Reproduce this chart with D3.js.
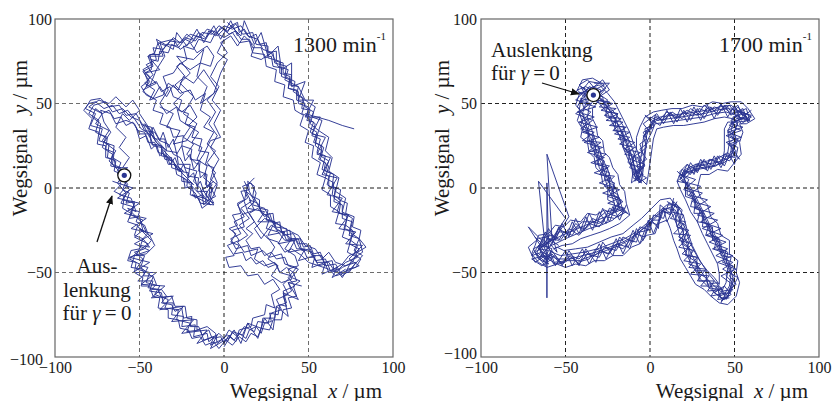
<!DOCTYPE html>
<html>
<head>
<meta charset="utf-8">
<script src="https://cdn.jsdelivr.net/npm/d3@7"></script>
<style>
body { margin: 0; background: #fff; }
svg text { font-family: "Liberation Serif", "DejaVu Serif", serif; fill: #1a1a1a; }
</style>
</head>
<body>
<svg id="chart" width="834" height="401" font-family="Liberation Serif"></svg>
<script>
// axis ticks and grid
var tickValues = [-100, -50, 0, 50, 100];
var gridValues = [-50, 0, 50];

// ---- 1300 min-1 : tool tip trace (x, y in µm) ----
var loopA1300 = [[-60,8],[-57,2],[-62,-4],[-55,-6],[-52,-14],[-57,-12],[-49,-20],[-46,-26],[-50,-24],[-43,-31],[-47,-36],[-53,-38],[-48,-42],[-52,-48],[-44,-50],[-46,-56],[-38,-58],[-41,-63],[-33,-66],[-35,-71],[-27,-72],[-28,-78],[-20,-80],[-22,-85],[-14,-84],[-12,-90],[-6,-88],[-8,-93],[0,-89],[3,-84],[8,-88],[12,-82],[18,-85],[20,-79],[26,-80],[28,-74],[34,-72],[31,-66],[38,-63],[35,-57],[40,-52],[33,-50],[30,-44],[24,-46],[18,-42],[20,-36],[12,-38],[8,-32],[14,-28],[9,-22],[15,-18],[10,-12],[16,-8],[13,-2],[18,-6],[22,-14],[27,-18],[25,-24],[32,-26],[36,-31],[42,-30],[45,-36],[52,-38],[55,-44],[62,-44],[66,-50],[70,-47],[76,-44],[80,-36],[74,-33],[77,-26],[71,-24],[73,-17],[67,-14],[69,-7],[64,-4],[65,3],[60,6],[62,13],[57,17],[59,24],[54,27],[56,34],[51,38],[53,45],[48,48],[46,54],[41,57],[42,63],[36,66],[37,72],[30,74],[29,80],[23,82],[20,88],[14,90],[10,96],[5,94],[0,96],[-4,92],[-10,94],[-14,89],[-20,91],[-25,86],[-32,87],[-36,82],[-42,83],[-40,76],[-46,73],[-42,67],[-47,62],[-41,58],[-44,52],[-36,55],[-33,62],[-27,58],[-24,66],[-18,62],[-12,70],[-8,64],[-4,58],[-10,52],[-5,45],[-9,38],[-4,31],[-8,24],[-3,17],[-7,10],[-4,3],[-9,-4],[-6,-9],[-12,-6],[-14,0],[-18,4],[-16,10],[-23,12],[-26,18],[-30,20],[-33,26],[-38,28],[-41,33],[-47,34],[-50,40],[-55,42],[-60,47],[-66,45],[-70,51],[-77,49],[-80,44],[-74,40],[-76,33],[-70,30],[-72,24],[-66,20],[-67,13],[-62,12],[-60,8]];
var loopB1300 = [[-58,10],[-63,3],[-58,-3],[-61,-9],[-54,-11],[-56,-18],[-50,-17],[-48,-25],[-53,-29],[-45,-33],[-50,-37],[-56,-42],[-50,-45],[-47,-51],[-51,-55],[-42,-55],[-44,-61],[-37,-62],[-36,-68],[-30,-68],[-31,-75],[-24,-76],[-25,-82],[-17,-81],[-18,-88],[-10,-86],[-9,-91],[-3,-86],[2,-91],[5,-85],[11,-87],[14,-80],[22,-83],[23,-77],[30,-77],[31,-70],[37,-68],[35,-61],[42,-58],[38,-53],[43,-47],[36,-45],[34,-39],[27,-41],[23,-37],[16,-40],[14,-34],[7,-36],[4,-30],[10,-27],[6,-20],[12,-17],[8,-10],[14,-6],[11,1],[16,3],[19,-3],[17,-10],[24,-12],[28,-20],[33,-22],[35,-28],[41,-27],[44,-33],[49,-33],[52,-40],[58,-40],[60,-46],[66,-45],[70,-52],[74,-49],[82,-40],[77,-37],[80,-30],[74,-28],[76,-20],[70,-18],[70,-10],[65,-8],[66,-1],[61,2],[63,9],[58,11],[60,19],[55,21],[57,29],[52,31],[54,38],[49,42],[50,48],[44,50],[44,57],[38,59],[39,66],[33,68],[33,75],[26,77],[26,84],[19,85],[17,92],[11,91],[7,97],[2,93],[-3,96],[-7,91],[-13,92],[-17,87],[-23,89],[-28,84],[-34,85],[-38,79],[-44,79],[-42,72],[-48,69],[-44,63],[-48,57],[-42,53],[-38,60],[-34,54],[-30,61],[-26,56],[-20,58],[-17,52],[-11,56],[-14,46],[-8,42],[-12,36],[-6,33],[-10,26],[-5,22],[-10,15],[-5,9],[-9,2],[-5,-5],[-11,-8],[-10,-2],[-16,-2],[-15,6],[-21,7],[-20,14],[-27,14],[-28,21],[-34,22],[-35,29],[-41,29],[-43,36],[-48,37],[-52,44],[-58,43],[-62,49],[-68,48],[-73,53],[-79,52],[-82,47],[-76,44],[-79,37],[-72,35],[-74,28],[-68,26],[-69,18],[-64,16],[-65,10],[-60,8]];
var loopC1300 = [[-61,7],[-56,-1],[-60,-7],[-53,-9],[-55,-16],[-48,-19],[-51,-23],[-44,-28],[-41,-34],[-46,-39],[-53,-40],[-55,-47],[-48,-48],[-42,-53],[-45,-59],[-39,-60],[-37,-65],[-31,-64],[-29,-70],[-23,-70],[-22,-77],[-16,-78],[-16,-84],[-10,-82],[-5,-86],[-4,-92],[2,-87],[7,-91],[9,-84],[16,-82],[17,-77],[24,-75],[25,-69],[30,-71],[28,-63],[33,-60],[29,-54],[24,-57],[20,-51],[14,-52],[10,-46],[3,-47],[1,-41],[6,-40],[2,-34],[9,-31],[5,-25],[12,-23],[10,-16],[18,-13],[15,-7],[20,-9],[23,-16],[29,-15],[30,-23],[37,-24],[38,-30],[44,-30],[46,-37],[51,-36],[54,-43],[60,-42],[63,-49],[68,-48],[72,-44],[79,-41],[73,-38],[75,-31],[70,-29],[72,-22],[66,-21],[68,-14],[63,-11],[63,-4],[58,-1],[60,6],[55,8],[57,15],[52,18],[53,25],[48,27],[50,34],[45,37],[47,43],[42,46],[41,52],[35,54],[36,61],[30,63],[31,70],[25,72],[24,79],[17,80],[15,87],[9,86],[5,92],[0,89],[-5,92],[-8,86],[-15,88],[-18,82],[-24,84],[-22,76],[-28,72],[-23,66],[-29,61],[-24,56],[-30,50],[-25,45],[-20,49],[-16,42],[-21,37],[-15,33],[-19,27],[-13,24],[-16,17],[-10,13],[-12,6],[-7,2],[-11,-4],[-6,-10],[-14,-9],[-17,-3],[-22,1],[-21,9],[-27,10],[-30,16],[-35,17],[-37,24],[-42,25],[-44,32],[-50,32],[-53,38],[-58,40],[-64,38],[-67,44],[-73,46],[-71,39],[-67,33],[-71,27],[-65,25],[-66,18],[-61,15],[-63,10],[-59,8]];
var loopD1300 = [[-44,60],[-40,70],[-35,78],[-38,86],[-30,88],[-26,82],[-20,86],[-16,80],[-10,84],[-6,78],[-8,72],[-14,74],[-20,70],[-26,74],[-30,68],[-36,66],[-33,58],[-38,50],[-34,44],[-28,48],[-26,40],[-20,36],[-24,30],[-18,26],[-22,20],[-16,14],[-12,20],[-8,28],[-2,30],[-6,38],[-2,46],[-7,52],[-3,60],[-8,66],[-4,74],[2,80],[-2,86],[4,90],[8,84],[12,90],[18,84],[16,78],[22,76],[28,80],[32,72],[38,70],[36,64],[44,60],[48,52],[54,48],[52,42],[58,40],[56,34],[62,30],[60,22],[64,18],[62,10],[68,6],[66,-2],[72,-6],[70,-14],[76,-18],[74,-26],[80,-30],[82,-38],[76,-42],[72,-50],[66,-52],[62,-48],[56,-46],[50,-44],[46,-40],[40,-36],[36,-38],[32,-32],[26,-30],[22,-26],[18,-20],[14,-14],[12,-8],[14,2],[18,6]];
var loopE1300 = [[25,-28],[30,-35],[26,-42],[32,-46],[28,-52],[34,-56],[40,-54],[38,-48],[44,-46],[42,-40],[36,-36],[40,-30],[34,-26],[28,-22],[22,-30],[18,-24],[24,-18],[30,-20],[36,-24],[44,-28],[48,-34],[54,-36],[58,-42],[62,-38],[66,-44],[72,-46],[78,-44],[74,-50],[68,-50]];
var loopF1300 = [[-62,6],[-58,4],[-60,-1],[-56,-3],[-58,-9],[-53,-8],[-54,-13],[-50,-14],[-52,-20],[-47,-22],[-45,-27],[-48,-30],[-44,-35],[-49,-34],[-52,-40],[-47,-40],[-49,-46],[-45,-47],[-48,-52],[-42,-52],[-40,-57],[-43,-60],[-37,-60],[-34,-64],[-37,-68],[-31,-69],[-29,-73],[-25,-71],[-24,-77],[-19,-76],[-20,-82],[-15,-82],[-13,-87],[-9,-84],[-7,-89],[-2,-88],[0,-92],[3,-87],[6,-90],[9,-86],[13,-89],[15,-84],[19,-82],[22,-86],[24,-80],[28,-79],[27,-74],[32,-75],[33,-69],[37,-70],[35,-64],[40,-61],[38,-56],[43,-55],[41,-50],[37,-47],[33,-50],[31,-45],[26,-47],[23,-43],[19,-45],[16,-41],[13,-43],[11,-38],[6,-39],[9,-34],[4,-32],[7,-27],[3,-24],[8,-22],[5,-16],[10,-15],[8,-9],[12,-7],[10,-2],[15,-1],[14,4],[18,1],[17,-5],[21,-7],[21,-12],[26,-13],[25,-19],[30,-20],[31,-25],[35,-26],[37,-31],[41,-31],[43,-36],[47,-36],[49,-41],[53,-41],[56,-46],[60,-45],[62,-50],[67,-49],[70,-53],[73,-48],[78,-47],[81,-42],[77,-39],[79,-34],[75,-31],[76,-25],[72,-22],[73,-16],[68,-15],[69,-9],[65,-6],[66,0],[62,1],[62,7],[59,9],[60,15],[56,17],[58,22],[54,25],[55,31],[51,33],[53,39],[49,40],[51,46],[46,47],[47,53],[43,55],[44,60],[39,61],[40,67],[35,68],[35,74],[31,75],[31,81],[26,80],[25,86],[21,85],[19,91],[15,89],[12,94],[9,92],[8,98],[4,96],[2,92],[-2,95],[-5,90],[-9,93],[-11,88],[-16,90],[-19,86],[-23,88],[-27,83],[-31,85],[-33,80],[-38,81],[-39,75],[-43,76],[-43,70],[-47,68],[-45,63],[-49,60],[-46,55],[-40,52],[-42,46],[-36,44],[-38,38],[-32,36],[-30,30],[-24,31],[-25,25],[-19,23],[-20,17],[-14,16],[-15,10],[-10,8],[-11,2],[-7,0],[-8,-6],[-12,-10],[-13,-4],[-17,-6],[-19,1],[-23,0],[-24,6],[-28,8],[-29,14],[-33,14],[-35,20],[-39,21],[-41,27],[-45,27],[-47,33],[-51,34],[-54,39],[-58,37],[-61,42],[-65,41],[-68,46],[-72,44],[-76,47],[-78,42],[-73,38],[-74,32],[-69,30],[-70,23],[-65,21],[-66,14],[-61,12],[-62,6]];
var loopG1300 = [[-57,12],[-63,9],[-61,2],[-65,-2],[-59,-5],[-60,-12],[-55,-15],[-57,-20],[-51,-22],[-53,-28],[-48,-30],[-50,-36],[-55,-37],[-57,-43],[-52,-44],[-53,-50],[-48,-53],[-49,-58],[-44,-58],[-42,-64],[-38,-65],[-39,-71],[-33,-72],[-33,-77],[-27,-78],[-26,-83],[-21,-84],[-19,-89],[-14,-88],[-11,-93],[-6,-91],[-3,-95],[1,-90],[5,-93],[9,-88],[13,-91],[16,-86],[20,-88],[22,-83],[27,-84],[29,-78],[34,-78],[35,-72],[40,-71],[38,-65],[43,-64],[41,-58],[45,-55],[40,-53],[44,-48],[38,-46],[36,-41],[31,-42],[28,-38],[24,-40],[21,-35],[16,-36],[13,-31],[17,-27],[13,-24],[18,-20],[15,-15],[20,-12],[24,-17],[27,-15],[29,-21],[33,-20],[34,-26],[39,-25],[40,-31],[45,-30],[47,-35],[51,-34],[53,-39],[57,-38],[59,-44],[64,-43],[65,-48],[70,-45],[74,-40],[79,-38],[84,-35],[80,-30],[81,-25],[76,-23],[77,-17],[72,-15],[73,-9],[68,-7],[69,-1],[64,1],[65,8],[60,10],[62,16],[57,19],[58,25],[53,27],[55,33],[50,36],[51,42],[46,44],[48,50],[43,52],[43,58],[38,59],[39,64],[34,66],[34,71],[29,72],[28,78],[24,77],[22,83],[17,83],[15,88],[10,88],[7,93],[3,91],[0,94],[-4,90],[-7,93],[-11,89],[-15,92],[-18,88],[-22,91],[-26,86],[-30,89],[-34,84],[-39,86],[-41,80],[-45,78],[-43,73],[-48,70],[-44,66],[-46,60],[-40,63],[-37,57],[-32,60],[-30,54],[-25,52],[-27,46],[-21,44],[-23,38],[-17,36],[-19,30],[-13,29],[-15,22],[-9,21],[-11,14],[-6,12],[-8,5],[-4,2],[-6,-4],[-9,-9],[-13,-12],[-15,-6],[-20,-4],[-19,3],[-25,4],[-25,10],[-31,12],[-31,18],[-37,19],[-37,25],[-43,26],[-44,32],[-49,35],[-53,41],[-57,46],[-62,44],[-66,49],[-71,47],[-76,51],[-80,50],[-83,46],[-78,41],[-80,35],[-74,33],[-75,26],[-70,25],[-70,18],[-65,17],[-64,12],[-57,12]];
var diag1300 = [[-48,38],[-44,30],[-42,36],[-38,28],[-36,33],[-33,24],[-30,29],[-28,20],[-25,25],[-23,16],[-20,20],[-18,11],[-15,15],[-14,6],[-11,9],[-10,0],[-8,3],[-9,-6],[-12,-2],[-14,4],[-16,1],[-18,9],[-21,6],[-24,14],[-26,10],[-29,18],[-32,14],[-35,22],[-38,19],[-40,26],[-43,23],[-46,31],[-50,29],[-52,36]];
var blob1300 = [[-62,10],[-68,16],[-64,22],[-72,28],[-68,34],[-76,38],[-72,44],[-80,48],[-74,52],[-68,50],[-64,54],[-58,48],[-54,52],[-50,46],[-56,40],[-60,44],[-64,36],[-58,30],[-62,24],[-56,18],[-60,12]];
var scrawlLeft1300 = [[-66,4],[-54,0],[-63,-6],[-50,-9],[-59,-15],[-46,-18],[-55,-24],[-42,-27],[-53,-33],[-44,-37],[-56,-41],[-44,-44],[-54,-50],[-40,-50],[-49,-57],[-35,-58],[-43,-65],[-30,-64],[-38,-72],[-24,-70],[-31,-79],[-18,-78],[-25,-86],[-10,-84],[-16,-92],[-4,-87],[-8,-95],[4,-88]];
var scrawlBottom1300 = [[0,-94],[6,-84],[10,-92],[14,-80],[20,-89],[24,-77],[29,-84],[31,-70],[38,-76],[35,-62],[44,-66],[38,-56],[46,-58]];
var scrawlDiag1300 = [[12,4],[18,-8],[14,-12],[24,-14],[20,-20],[30,-20],[26,-28],[36,-26],[32,-33],[42,-31],[38,-38],[48,-36],[44,-43],[54,-40],[52,-47],[60,-44],[58,-51],[67,-47],[64,-53],[72,-48]];
var scrawlRight1300 = [[2,98],[10,90],[12,99],[18,85],[22,92],[26,78],[32,84],[34,70],[40,74],[40,60],[48,63],[44,52],[53,52],[48,42],[57,42],[52,32],[60,30],[55,20],[63,18],[58,8],[67,6],[61,-4],[70,-6],[64,-14],[74,-16],[68,-24],[78,-26],[72,-33],[82,-34],[74,-42],[80,-46],[70,-50]];
var scrawlInner1300 = [[-50,44],[-42,32],[-47,38],[-40,27],[-44,33],[-34,22],[-40,27],[-30,16],[-36,20],[-24,10],[-30,14],[-18,2],[-24,6],[-12,-6],[-19,-4],[-8,-10],[-14,-2],[-6,4]];
var scrawlTop1300 = [[-48,58],[-40,62],[-47,68],[-38,70],[-45,78],[-36,78],[-40,88],[-30,82],[-28,92],[-22,84],[-16,94],[-12,86],[-6,96],[-2,88],[4,99],[8,90]];
var wander1300 = [[-38,48],[-30,44],[-34,36],[-26,34],[-30,26],[-22,28],[-16,38],[-24,44],[-18,54],[-26,62],[-20,68],[-28,78],[-18,76],[-12,82],[-16,66],[-10,60],[-14,50],[-6,56],[-2,68],[2,76],[-4,80],[0,88]];
var tail1300 = [[48,44],[55,42],[62,40],[70,37],[77,35]];
var start1300 = [-59, 7.5];

// ---- 1700 min-1 ----
var loopA1700 = [[-33,55],[-38,50],[-40,44],[-38,38],[-36,31],[-33,26],[-31,19],[-28,13],[-26,7],[-23,1],[-21,-5],[-18,-12],[-24,-16],[-31,-19],[-38,-22],[-45,-25],[-52,-28],[-58,-31],[-63,-34],[-61,-39],[-55,-42],[-47,-42],[-40,-40],[-32,-38],[-24,-35],[-16,-32],[-9,-28],[-3,-23],[3,-17],[9,-12],[15,-13],[18,-20],[20,-28],[23,-36],[27,-44],[32,-52],[38,-58],[44,-63],[47,-58],[48,-50],[45,-43],[41,-35],[37,-27],[33,-19],[29,-11],[25,-3],[21,4],[19,9],[25,12],[32,14],[39,15],[45,17],[49,21],[50,28],[48,35],[51,41],[57,42],[52,46],[46,47],[39,46],[32,44],[25,43],[18,42],[11,41],[4,40],[-1,36],[-4,29],[-5,21],[-6,13],[-7,6],[-9,12],[-11,19],[-14,26],[-17,33],[-20,40],[-24,46],[-28,52],[-33,55]];
var loopB1700 = [[-35,57],[-41,52],[-42,45],[-40,39],[-37,33],[-35,25],[-32,20],[-30,12],[-27,7],[-25,0],[-22,-6],[-20,-13],[-26,-14],[-33,-20],[-40,-20],[-47,-26],[-54,-26],[-60,-32],[-65,-36],[-62,-41],[-57,-44],[-49,-43],[-42,-43],[-34,-40],[-26,-37],[-18,-34],[-11,-30],[-5,-25],[1,-20],[7,-14],[13,-15],[16,-22],[18,-30],[21,-38],[25,-46],[30,-54],[36,-60],[43,-66],[47,-61],[49,-53],[47,-45],[43,-37],[39,-29],[35,-21],[31,-13],[27,-5],[23,2],[17,7],[23,10],[30,12],[37,13],[44,15],[48,19],[51,26],[50,33],[52,39],[59,40],[54,44],[48,49],[41,48],[34,46],[27,45],[20,44],[13,43],[6,42],[1,39],[-2,31],[-3,23],[-4,15],[-5,8],[-8,5],[-10,10],[-13,17],[-16,24],[-18,31],[-22,38],[-25,44],[-30,50],[-34,55]];
var loopC1700 = [[-32,54],[-36,48],[-37,42],[-35,36],[-33,30],[-30,23],[-28,17],[-25,11],[-23,5],[-20,-1],[-18,-7],[-16,-13],[-22,-19],[-29,-22],[-36,-24],[-43,-27],[-50,-30],[-56,-33],[-61,-35],[-58,-38],[-53,-40],[-46,-39],[-39,-38],[-31,-36],[-23,-33],[-15,-30],[-8,-26],[-2,-21],[4,-15],[10,-10],[16,-10],[20,-17],[22,-25],[25,-34],[29,-42],[34,-50],[39,-56],[43,-60],[45,-56],[46,-48],[43,-41],[39,-33],[35,-25],[31,-17],[27,-9],[23,-1],[20,6],[21,11],[27,14],[34,16],[41,18],[46,21],[47,27],[46,34],[49,39],[55,41],[51,43],[45,45],[38,44],[31,42],[24,41],[17,40],[10,39],[3,38],[1,33],[-2,27],[-3,19],[-4,11],[-5,4],[-8,8],[-10,16],[-12,23],[-15,30],[-18,36],[-22,43],[-26,49],[-30,53],[-32,56]];
var loopD1700 = [[-34,60],[-39,55],[-37,49],[-42,44],[-37,40],[-40,34],[-34,31],[-35,24],[-29,21],[-31,14],[-25,12],[-27,5],[-21,3],[-23,-4],[-17,-7],[-20,-14],[-24,-12],[-28,-21],[-34,-18],[-39,-25],[-44,-21],[-48,-28],[-54,-24],[-57,-31],[-63,-29],[-66,-36],[-60,-37],[-63,-43],[-56,-40],[-52,-45],[-46,-41],[-42,-45],[-37,-39],[-30,-41],[-27,-35],[-20,-37],[-16,-29],[-10,-32],[-6,-23],[0,-25],[2,-16],[8,-18],[11,-9],[17,-12],[15,-19],[21,-22],[17,-29],[23,-32],[21,-40],[28,-41],[27,-49],[33,-49],[34,-57],[40,-56],[41,-64],[46,-62],[49,-56],[45,-52],[49,-46],[43,-44],[45,-37],[38,-36],[40,-29],[33,-28],[35,-21],[28,-20],[30,-12],[24,-11],[26,-3],[20,-1],[23,5],[17,9],[22,14],[28,10],[31,16],[38,13],[41,19],[47,16],[51,22],[46,26],[51,30],[46,34],[52,37],[49,42],[56,44],[58,39],[55,47],[49,44],[45,49],[40,44],[35,48],[30,43],[24,47],[19,41],[13,45],[8,40],[3,43],[2,36],[-4,33],[-1,27],[-6,23],[-2,17],[-8,13],[-4,8],[-9,4],[-7,10],[-12,12],[-9,19],[-15,22],[-12,28],[-18,30],[-15,36],[-22,37],[-19,44],[-26,45],[-24,51],[-31,52],[-29,58],[-34,60]];
var loopE1700 = [[-31,58],[-36,60],[-40,54],[-43,48],[-39,43],[-41,37],[-36,35],[-37,28],[-32,26],[-33,19],[-28,16],[-28,9],[-24,6],[-24,-1],[-19,-4],[-19,-10],[-14,-14],[-19,-17],[-25,-15],[-30,-23],[-36,-21],[-42,-28],[-48,-24],[-53,-31],[-59,-27],[-62,-32],[-67,-38],[-62,-42],[-58,-39],[-53,-45],[-48,-40],[-43,-44],[-36,-42],[-32,-36],[-25,-39],[-20,-33],[-13,-35],[-9,-27],[-3,-29],[0,-20],[5,-22],[7,-13],[12,-16],[14,-8],[19,-13],[17,-22],[22,-26],[19,-33],[25,-37],[23,-45],[29,-47],[29,-55],[35,-55],[38,-62],[42,-59],[45,-66],[48,-60],[50,-52],[46,-49],[48,-41],[42,-40],[42,-32],[37,-31],[37,-23],[31,-23],[32,-15],[26,-15],[27,-7],[21,-5],[21,3],[16,4],[19,11],[24,8],[27,14],[33,11],[35,17],[42,14],[44,20],[50,18],[48,25],[53,28],[47,31],[51,35],[48,40],[53,45],[60,43],[56,40],[52,49],[47,45],[42,49],[37,45],[32,49],[28,43],[22,46],[16,42],[10,45],[5,40],[0,42],[1,35],[-4,31],[-2,24],[-7,20],[-3,13],[-9,9],[-5,3],[-10,6],[-11,14],[-13,21],[-16,25],[-16,33],[-21,34],[-20,41],[-26,42],[-26,49],[-32,51],[-31,58]];
var loopF1700 = [[-36,59],[-42,55],[-44,49],[-41,46],[-43,40],[-40,35],[-41,30],[-37,27],[-36,21],[-33,18],[-32,12],[-29,9],[-28,3],[-25,-1],[-25,-7],[-21,-9],[-22,-15],[-27,-13],[-32,-16],[-37,-15],[-41,-20],[-47,-19],[-51,-23],[-56,-22],[-60,-27],[-66,-28],[-68,-34],[-70,-39],[-66,-44],[-61,-47],[-55,-45],[-50,-47],[-44,-45],[-38,-46],[-33,-43],[-27,-43],[-22,-40],[-16,-40],[-11,-35],[-6,-33],[-2,-28],[3,-27],[5,-21],[10,-19],[12,-24],[14,-31],[16,-36],[18,-42],[21,-47],[24,-52],[27,-57],[32,-60],[36,-64],[41,-68],[46,-69],[51,-64],[53,-56],[51,-50],[52,-43],[47,-39],[47,-31],[42,-28],[40,-21],[36,-17],[34,-10],[30,-6],[28,0],[30,8],[35,8],[40,11],[46,10],[50,15],[54,20],[53,27],[55,33],[53,38],[57,38],[62,41],[58,47],[54,51],[48,51],[43,50],[37,51],[31,48],[25,49],[19,47],[13,47],[7,46],[2,45],[-3,42],[-6,36],[-8,30],[-8,23],[-10,17],[-10,10],[-11,3],[-5,8],[-6,15],[-7,21],[-10,27],[-12,33],[-15,39],[-18,45],[-21,51],[-25,56],[-30,61],[-36,59]];
var loopG1700 = [[-30,52],[-34,47],[-34,41],[-32,37],[-31,31],[-28,28],[-27,21],[-24,18],[-22,12],[-19,8],[-18,2],[-15,-2],[-14,-9],[-12,-16],[-18,-21],[-24,-24],[-29,-26],[-35,-28],[-41,-30],[-46,-33],[-52,-34],[-57,-36],[-55,-35],[-51,-37],[-44,-36],[-37,-35],[-30,-32],[-23,-29],[-16,-27],[-10,-22],[-5,-18],[1,-12],[6,-7],[12,-6],[16,-12],[18,-19],[21,-24],[23,-31],[26,-37],[30,-44],[34,-49],[38,-53],[41,-57],[41,-51],[40,-45],[37,-39],[34,-33],[31,-27],[28,-20],[24,-14],[21,-7],[18,-1],[16,4],[22,9],[28,11],[34,12],[39,13],[43,16],[44,22],[44,29],[44,35],[46,39],[52,39],[49,41],[44,42],[38,41],[32,39],[26,38],[20,37],[14,37],[8,36],[4,35],[2,29],[1,22],[0,15],[-1,8],[-2,2],[-5,5],[-7,12],[-9,19],[-11,25],[-14,31],[-16,37],[-19,42],[-23,47],[-27,51],[-30,54]];
var loopH1700 = [[-34,56],[-37,52],[-41,53],[-39,47],[-35,45],[-39,41],[-36,37],[-38,33],[-33,31],[-34,25],[-30,24],[-31,18],[-27,16],[-29,11],[-24,9],[-25,4],[-21,1],[-22,-4],[-18,-6],[-19,-11],[-16,-15],[-21,-18],[-26,-17],[-30,-21],[-34,-20],[-38,-24],[-43,-23],[-46,-28],[-51,-26],[-54,-31],[-59,-30],[-62,-35],[-66,-34],[-64,-40],[-59,-41],[-57,-45],[-51,-44],[-47,-40],[-42,-42],[-38,-38],[-34,-41],[-29,-37],[-24,-39],[-21,-34],[-16,-36],[-12,-31],[-8,-32],[-6,-26],[-1,-25],[1,-19],[6,-19],[8,-13],[13,-11],[15,-16],[16,-23],[20,-25],[19,-32],[23,-35],[23,-41],[28,-44],[28,-50],[33,-53],[35,-59],[40,-60],[42,-65],[46,-65],[47,-60],[51,-57],[47,-52],[50,-47],[45,-44],[46,-38],[41,-36],[41,-30],[36,-28],[35,-22],[31,-20],[31,-14],[27,-12],[26,-6],[22,-4],[22,2],[18,5],[21,10],[26,9],[28,14],[33,13],[36,17],[41,15],[44,19],[48,18],[48,24],[51,27],[48,31],[51,35],[49,38],[53,41],[58,41],[55,45],[50,45],[47,49],[43,46],[38,48],[34,45],[29,47],[25,43],[20,45],[16,41],[11,44],[7,40],[3,42],[1,37],[-3,35],[-2,29],[-6,26],[-4,20],[-7,17],[-5,11],[-8,8],[-6,3],[-9,7],[-9,13],[-13,15],[-12,21],[-16,24],[-15,30],[-19,32],[-19,38],[-23,40],[-23,46],[-27,48],[-28,54],[-33,55]];
var hatchTLout1700 = [[-42,56],[-31,55],[-42,51],[-32,48],[-43,45],[-33,42],[-42,39],[-31,36],[-40,33],[-30,30],[-39,27],[-28,24],[-37,21],[-27,18],[-35,15],[-25,12],[-33,9],[-23,6],[-30,3],[-20,0],[-28,-3],[-18,-6],[-25,-9],[-15,-12],[-22,-15]];
var hatchTLin1700 = [[-31,56],[-25,52],[-30,48],[-20,47],[-27,43],[-17,41],[-24,37],[-14,36],[-21,32],[-12,30],[-18,26],[-9,24],[-15,20],[-7,18],[-12,14],[-4,12],[-10,8],[-5,4]];
var hatchRtop1700 = [[-4,30],[2,38],[-3,43],[6,37],[10,46],[14,38],[18,47],[22,39],[26,48],[30,40],[34,49],[38,41],[42,50],[46,42],[50,49],[54,40],[58,45]];
var hatchRbot1700 = [[18,6],[22,14],[26,8],[30,17],[34,10],[38,19],[42,12],[46,21],[50,14],[52,24],[45,27],[54,30],[46,33],[55,36],[48,38],[56,42]];
var hatchBRl1700 = [[10,-8],[18,-12],[12,-18],[21,-20],[14,-27],[24,-28],[17,-35],[26,-37],[20,-43],[30,-45],[24,-51],[35,-52],[30,-58],[40,-58],[36,-64],[45,-62],[42,-68]];
var hatchBRr1700 = [[50,-58],[42,-52],[51,-48],[40,-44],[49,-40],[37,-36],[45,-32],[33,-28],[42,-24],[30,-20],[38,-15],[26,-12],[34,-7],[23,-4],[30,1],[19,4],[25,10]];
var hatchLtop1700 = [[-14,-10],[-18,-19],[-22,-11],[-26,-21],[-30,-14],[-34,-25],[-38,-17],[-42,-27],[-46,-20],[-50,-30],[-54,-23],[-58,-33],[-62,-26],[-66,-35]];
var hatchLbot1700 = [[-66,-42],[-60,-35],[-56,-46],[-50,-37],[-46,-46],[-40,-36],[-36,-45],[-30,-33],[-26,-42],[-20,-30],[-16,-39],[-10,-25],[-6,-33],[-1,-19],[2,-27],[8,-12],[10,-20],[16,-8]];
var hatchTLout2_1700 = [[-38,58],[-44,52],[-35,50],[-44,44],[-34,40],[-41,35],[-33,33],[-40,28],[-29,27],[-36,22],[-26,20],[-33,15],[-24,13],[-30,8],[-21,7],[-27,1],[-18,-1],[-25,-5],[-16,-8],[-21,-12],[-13,-15]];
var hatchTLin2_1700 = [[-27,58],[-32,52],[-22,50],[-29,46],[-19,44],[-26,40],[-16,39],[-22,34],[-12,33],[-19,29],[-9,27],[-15,23],[-6,21],[-12,17],[-3,14],[-9,10],[-2,6],[-7,3]];
var hatchRtop2_1700 = [[0,33],[-4,38],[4,44],[8,38],[12,45],[16,39],[20,46],[24,40],[28,47],[32,41],[36,48],[40,43],[44,49],[48,43],[52,48],[56,43],[60,46]];
var hatchRbot2_1700 = [[16,10],[20,6],[24,15],[28,9],[32,17],[36,11],[40,19],[44,13],[48,22],[53,17],[47,26],[52,28],[45,31],[54,34],[47,37],[52,44]];
var hatchBRl2_1700 = [[14,-6],[12,-14],[20,-16],[16,-23],[23,-25],[17,-31],[25,-33],[19,-39],[28,-41],[23,-47],[33,-48],[28,-55],[38,-55],[34,-61],[43,-60],[40,-66],[47,-65]];
var hatchBRr2_1700 = [[46,-64],[52,-53],[43,-48],[49,-44],[39,-40],[46,-36],[35,-32],[43,-28],[31,-24],[40,-19],[28,-16],[36,-11],[25,-8],[31,-3],[21,0],[27,5],[18,8]];
var hatchLtop2_1700 = [[-12,-16],[-20,-10],[-24,-20],[-28,-12],[-32,-23],[-36,-15],[-40,-26],[-44,-18],[-48,-29],[-52,-21],[-56,-31],[-60,-24],[-64,-33],[-68,-29]];
var hatchLbot2_1700 = [[-68,-38],[-62,-46],[-58,-37],[-52,-46],[-48,-37],[-42,-46],[-38,-36],[-32,-44],[-28,-32],[-22,-40],[-18,-29],[-12,-36],[-8,-24],[-4,-31],[0,-18],[5,-24],[6,-10],[12,-15]];
var tipTL1700 = [[-40,58],[-36,63],[-30,62],[-26,59],[-31,56],[-38,60],[-43,58],[-39,54],[-33,60],[-28,64],[-24,58],[-30,54],[-36,56],[-42,61],[-37,64],[-32,58],[-44,56],[-40,64],[-34,65],[-27,61],[-35,57],[-41,60],[-37,53],[-29,57],[-24,62],[-33,62]];
var tipL1700 = [[-56,-30],[-63,-33],[-69,-36],[-66,-42],[-60,-45],[-64,-38],[-70,-40],[-65,-33],[-58,-36],[-62,-44],[-68,-38],[-60,-32],[-55,-38],[-58,-28],[-66,-30],[-72,-35],[-68,-44],[-62,-40],[-70,-42],[-64,-46],[-58,-42],[-66,-36],[-60,-30],[-54,-34]];
var tipBR1700 = [[40,-58],[46,-64],[42,-67],[48,-63],[44,-58],[38,-62],[44,-66],[49,-60],[43,-61]];
var tipR1700 = [[48,40],[55,45],[60,42],[54,38],[50,44],[57,47],[59,40],[52,42]];
var spikes1700 = [[-62,-35],[-66,4],[-50,-18],[-58,-30],[-61,20],[-48,-17],[-60,-36],[-61,3],[-61,-65],[-61,-40],[-72,-23],[-62,-33]];
var start1700 = [-33.5, 55];

var svg = d3.select("#chart");
var lineColor = "#2a3591";
var serif = "Liberation Serif";

var panels = [
  { x0: 55, x1: 393, y0: 19, y1: 357,
    traces: [loopA1300, loopB1300, loopC1300, loopD1300, loopE1300, loopF1300, loopG1300, diag1300, blob1300,
             scrawlLeft1300, scrawlBottom1300, scrawlDiag1300, scrawlRight1300, scrawlInner1300, scrawlTop1300, wander1300, tail1300],
    start: start1300, speed: "1300", gridMid: "#6d6d6d", yTitleX: 27 },
  { x0: 481, x1: 819, y0: 19, y1: 357,
    traces: [loopA1700, loopB1700, loopC1700, loopD1700, loopE1700, loopF1700, loopG1700, loopH1700,
             hatchTLout1700, hatchTLin1700, hatchRtop1700, hatchRbot1700, hatchBRl1700, hatchBRr1700, hatchLtop1700, hatchLbot1700,
             hatchTLout2_1700, hatchTLin2_1700, hatchRtop2_1700, hatchRbot2_1700, hatchBRl2_1700, hatchBRr2_1700, hatchLtop2_1700, hatchLbot2_1700,
             tipTL1700, tipL1700, tipBR1700, tipR1700, spikes1700],
    start: start1700, speed: "1700", gridMid: "#222", yTitleX: 449 }
];

panels.forEach(function (p, i) {
  var x = d3.scaleLinear().domain([-100, 100]).range([p.x0, p.x1]);
  var y = d3.scaleLinear().domain([-100, 100]).range([p.y1, p.y0]);
  var g = svg.append("g");

  var line = d3.line().x(function (d) { return x(d[0]); }).y(function (d) { return y(d[1]); });

  g.selectAll("path.trace").data(p.traces).enter().append("path")
    .attr("class", "trace")
    .attr("d", line)
    .attr("fill", "none")
    .attr("stroke", lineColor)
    .attr("stroke-width", 0.95)
    .attr("stroke-linejoin", "round");

  // dashed grid
  gridValues.forEach(function (v) {
    var col = v === 0 ? "#1a1a1a" : p.gridMid;
    g.append("line").attr("x1", x(v)).attr("x2", x(v)).attr("y1", p.y0).attr("y2", p.y1)
      .attr("stroke", col).attr("stroke-width", 1).attr("stroke-dasharray", "4,3");
    g.append("line").attr("x1", p.x0).attr("x2", p.x1).attr("y1", y(v)).attr("y2", y(v))
      .attr("stroke", col).attr("stroke-width", 1).attr("stroke-dasharray", "4,3");
  });

  // frame
  g.append("rect").attr("x", p.x0).attr("y", p.y0)
    .attr("width", p.x1 - p.x0).attr("height", p.y1 - p.y0)
    .attr("fill", "none").attr("stroke", "#666").attr("stroke-width", 1.2);

  // axes
  var xAxis = g.append("g").attr("transform", "translate(0," + p.y1 + ")")
    .call(d3.axisBottom(x).tickValues(tickValues).tickSize(0).tickPadding(5));
  var yAxis = g.append("g").attr("transform", "translate(" + p.x0 + ",0)")
    .call(d3.axisLeft(y).tickValues(tickValues).tickSize(0).tickPadding(i === 0 ? 3 : 4));
  [xAxis, yAxis].forEach(function (a) {
    a.attr("font-family", serif);
    a.select(".domain").remove();
    a.selectAll("text").attr("font-size", 16).attr("font-family", serif).attr("fill", "#1a1a1a");
  });
  var low = yAxis.selectAll(".tick").filter(function (d) { return d === -100; }).select("text");
  if (i === 0) low.attr("x", -12).attr("dy", "0.45em");
  else low.attr("dy", "0.1em");

  // speed label
  var sp = g.append("text").attr("x", p.x0 + 238).attr("y", 52)
    .attr("font-size", 22).attr("font-family", serif);
  sp.append("tspan").text(p.speed + " min");
  sp.append("tspan").attr("font-size", 11).attr("dy", -12).text("-1");

  // axis titles
  var xt = g.append("text").attr("x", p.x1 - 11).attr("y", 397.5)
    .attr("text-anchor", "end").attr("font-size", 21).attr("font-family", serif);
  xt.append("tspan").text("Wegsignal");
  xt.append("tspan").attr("dx", 10).attr("font-style", "italic").text("x");
  xt.append("tspan").text(" / µm");

  var yt = g.append("text").attr("transform", "translate(" + p.yTitleX + ",60) rotate(-90)")
    .attr("text-anchor", "end").attr("font-size", 21).attr("font-family", serif);
  yt.append("tspan").text("Wegsignal");
  yt.append("tspan").attr("dx", 14).attr("font-style", "italic").text("y");
  yt.append("tspan").text(" / µm");

  // start marker
  g.append("circle").attr("cx", x(p.start[0])).attr("cy", y(p.start[1])).attr("r", 6.5)
    .attr("fill", "#fff").attr("stroke", "#111").attr("stroke-width", 1.3);
  g.append("circle").attr("cx", x(p.start[0])).attr("cy", y(p.start[1])).attr("r", 2.6)
    .attr("fill", lineColor);
});

// arrow head
svg.append("defs").append("marker").attr("id", "arr")
  .attr("viewBox", "0 0 10 10").attr("refX", 9).attr("refY", 5)
  .attr("markerWidth", 9).attr("markerHeight", 9).attr("orient", "auto")
  .attr("markerUnits", "userSpaceOnUse")
  .append("path").attr("d", "M0,1 L10,5 L0,9 Z").attr("fill", "#111");

// annotation left
var ann = svg.append("text").attr("text-anchor", "middle").attr("font-size", 21).attr("font-family", serif);
ann.append("tspan").attr("x", 97).attr("y", 273).text("Aus-");
ann.append("tspan").attr("x", 97).attr("y", 297).text("lenkung");
var l3 = ann.append("tspan").attr("x", 97).attr("y", 320);
l3.append("tspan").text("für ");
l3.append("tspan").attr("font-style", "italic").text("γ");
l3.append("tspan").text("\u2009=\u20090");
svg.append("line").attr("x1", 97).attr("y1", 242).attr("x2", 112).attr("y2", 196)
  .attr("stroke", "#111").attr("stroke-width", 1.3).attr("marker-end", "url(#arr)");

// annotation right
var ann2 = svg.append("text").attr("font-size", 21).attr("font-family", serif);
ann2.append("tspan").attr("x", 491).attr("y", 57).text("Auslenkung");
var r2 = ann2.append("tspan").attr("x", 491).attr("y", 80);
r2.append("tspan").text("für ");
r2.append("tspan").attr("font-style", "italic").text("γ");
r2.append("tspan").text("\u2009=\u20090");
svg.append("line").attr("x1", 542).attr("y1", 83).attr("x2", 579).attr("y2", 94)
  .attr("stroke", "#111").attr("stroke-width", 1.3).attr("marker-end", "url(#arr)");
</script>
</body>
</html>
